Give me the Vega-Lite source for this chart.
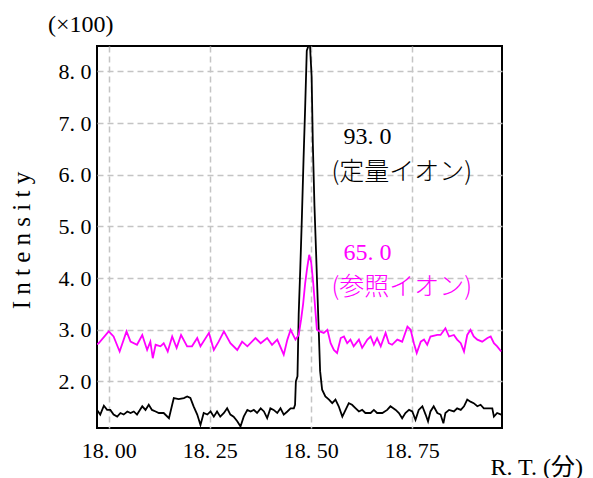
{
  "$schema": "https://vega.github.io/schema/vega-lite/v6.json",
  "width": 405,
  "height": 382,
  "autosize": {"type": "none"},
  "padding": {"left": 97, "top": 46, "right": 91, "bottom": 50},
  "background": "white",
  "config": {
    "view": {"stroke": "#000000", "strokeWidth": 2},
    "axis": {
      "grid": true,
      "gridDash": [6, 4],
      "gridColor": "#c4c4c4",
      "gridWidth": 1.5,
      "ticks": false,
      "domain": false,
      "labelFont": "Liberation Serif",
      "labelFontSize": 22,
      "labelColor": "#000000",
      "labelFlush": false,
      "labelOverlap": false,
      "titleColor": "#000000",
      "titleFontWeight": "normal"
    }
  },
  "title": {
    "text": "(×100)",
    "frame": "group",
    "anchor": "start",
    "dx": -49,
    "offset": -15,
    "baseline": "bottom",
    "font": "Liberation Serif",
    "fontSize": 24,
    "fontWeight": "normal",
    "color": "#000000"
  },
  "datasets": {
    "chrom": [
      {"ion": "93.0", "t": 17.971, "v": 1.45}, {"ion": "93.0", "t": 17.979, "v": 1.36}, {"ion": "93.0", "t": 17.988, "v": 1.53}, {"ion": "93.0", "t": 17.996, "v": 1.45},
      {"ion": "93.0", "t": 18.004, "v": 1.45}, {"ion": "93.0", "t": 18.012, "v": 1.36}, {"ion": "93.0", "t": 18.021, "v": 1.32}, {"ion": "93.0", "t": 18.029, "v": 1.39},
      {"ion": "93.0", "t": 18.037, "v": 1.36}, {"ion": "93.0", "t": 18.046, "v": 1.42}, {"ion": "93.0", "t": 18.054, "v": 1.39}, {"ion": "93.0", "t": 18.062, "v": 1.42},
      {"ion": "93.0", "t": 18.070, "v": 1.36}, {"ion": "93.0", "t": 18.083, "v": 1.52}, {"ion": "93.0", "t": 18.091, "v": 1.45}, {"ion": "93.0", "t": 18.099, "v": 1.55},
      {"ion": "93.0", "t": 18.107, "v": 1.45}, {"ion": "93.0", "t": 18.116, "v": 1.42}, {"ion": "93.0", "t": 18.124, "v": 1.39}, {"ion": "93.0", "t": 18.136, "v": 1.39},
      {"ion": "93.0", "t": 18.149, "v": 1.29}, {"ion": "93.0", "t": 18.157, "v": 1.55}, {"ion": "93.0", "t": 18.161, "v": 1.68}, {"ion": "93.0", "t": 18.173, "v": 1.66},
      {"ion": "93.0", "t": 18.186, "v": 1.68}, {"ion": "93.0", "t": 18.194, "v": 1.71}, {"ion": "93.0", "t": 18.202, "v": 1.68}, {"ion": "93.0", "t": 18.210, "v": 1.52},
      {"ion": "93.0", "t": 18.219, "v": 1.36}, {"ion": "93.0", "t": 18.227, "v": 1.16}, {"ion": "93.0", "t": 18.235, "v": 1.39}, {"ion": "93.0", "t": 18.244, "v": 1.36},
      {"ion": "93.0", "t": 18.252, "v": 1.42}, {"ion": "93.0", "t": 18.260, "v": 1.32}, {"ion": "93.0", "t": 18.268, "v": 1.42}, {"ion": "93.0", "t": 18.276, "v": 1.32},
      {"ion": "93.0", "t": 18.285, "v": 1.39}, {"ion": "93.0", "t": 18.293, "v": 1.48}, {"ion": "93.0", "t": 18.301, "v": 1.36}, {"ion": "93.0", "t": 18.309, "v": 1.32},
      {"ion": "93.0", "t": 18.318, "v": 1.23}, {"ion": "93.0", "t": 18.326, "v": 1.13}, {"ion": "93.0", "t": 18.334, "v": 1.32}, {"ion": "93.0", "t": 18.343, "v": 1.45},
      {"ion": "93.0", "t": 18.351, "v": 1.42}, {"ion": "93.0", "t": 18.359, "v": 1.45}, {"ion": "93.0", "t": 18.367, "v": 1.39}, {"ion": "93.0", "t": 18.376, "v": 1.48},
      {"ion": "93.0", "t": 18.384, "v": 1.42}, {"ion": "93.0", "t": 18.392, "v": 1.29}, {"ion": "93.0", "t": 18.400, "v": 1.48}, {"ion": "93.0", "t": 18.408, "v": 1.45},
      {"ion": "93.0", "t": 18.417, "v": 1.39}, {"ion": "93.0", "t": 18.425, "v": 1.48}, {"ion": "93.0", "t": 18.433, "v": 1.36}, {"ion": "93.0", "t": 18.442, "v": 1.42},
      {"ion": "93.0", "t": 18.450, "v": 1.48}, {"ion": "93.0", "t": 18.458, "v": 1.48}, {"ion": "93.0", "t": 18.461, "v": 1.55}, {"ion": "93.0", "t": 18.463, "v": 2.0},
      {"ion": "93.0", "t": 18.467, "v": 2.1}, {"ion": "93.0", "t": 18.470, "v": 3.3}, {"ion": "93.0", "t": 18.474, "v": 4.2}, {"ion": "93.0", "t": 18.478, "v": 5.2},
      {"ion": "93.0", "t": 18.482, "v": 6.3}, {"ion": "93.0", "t": 18.486, "v": 7.3}, {"ion": "93.0", "t": 18.490, "v": 8.4}, {"ion": "93.0", "t": 18.494, "v": 9.5},
      {"ion": "93.0", "t": 18.498, "v": 8.6}, {"ion": "93.0", "t": 18.502, "v": 7.9}, {"ion": "93.0", "t": 18.505, "v": 6.6}, {"ion": "93.0", "t": 18.509, "v": 5.4},
      {"ion": "93.0", "t": 18.513, "v": 4.5}, {"ion": "93.0", "t": 18.516, "v": 3.8}, {"ion": "93.0", "t": 18.520, "v": 2.9}, {"ion": "93.0", "t": 18.523, "v": 2.2},
      {"ion": "93.0", "t": 18.528, "v": 1.84}, {"ion": "93.0", "t": 18.536, "v": 1.71}, {"ion": "93.0", "t": 18.545, "v": 1.65}, {"ion": "93.0", "t": 18.553, "v": 1.58},
      {"ion": "93.0", "t": 18.561, "v": 1.65}, {"ion": "93.0", "t": 18.569, "v": 1.52}, {"ion": "93.0", "t": 18.578, "v": 1.32}, {"ion": "93.0", "t": 18.586, "v": 1.45},
      {"ion": "93.0", "t": 18.594, "v": 1.58}, {"ion": "93.0", "t": 18.602, "v": 1.55}, {"ion": "93.0", "t": 18.611, "v": 1.48}, {"ion": "93.0", "t": 18.619, "v": 1.42},
      {"ion": "93.0", "t": 18.627, "v": 1.45}, {"ion": "93.0", "t": 18.635, "v": 1.39}, {"ion": "93.0", "t": 18.648, "v": 1.39}, {"ion": "93.0", "t": 18.656, "v": 1.45},
      {"ion": "93.0", "t": 18.664, "v": 1.39}, {"ion": "93.0", "t": 18.677, "v": 1.39}, {"ion": "93.0", "t": 18.689, "v": 1.45}, {"ion": "93.0", "t": 18.697, "v": 1.52},
      {"ion": "93.0", "t": 18.710, "v": 1.45}, {"ion": "93.0", "t": 18.718, "v": 1.39}, {"ion": "93.0", "t": 18.726, "v": 1.29}, {"ion": "93.0", "t": 18.734, "v": 1.39},
      {"ion": "93.0", "t": 18.743, "v": 1.45}, {"ion": "93.0", "t": 18.751, "v": 1.42}, {"ion": "93.0", "t": 18.759, "v": 1.26}, {"ion": "93.0", "t": 18.767, "v": 1.45},
      {"ion": "93.0", "t": 18.776, "v": 1.52}, {"ion": "93.0", "t": 18.784, "v": 1.36}, {"ion": "93.0", "t": 18.790, "v": 1.23}, {"ion": "93.0", "t": 18.796, "v": 1.42},
      {"ion": "93.0", "t": 18.804, "v": 1.52}, {"ion": "93.0", "t": 18.813, "v": 1.39}, {"ion": "93.0", "t": 18.821, "v": 1.36}, {"ion": "93.0", "t": 18.828, "v": 1.19},
      {"ion": "93.0", "t": 18.833, "v": 1.39}, {"ion": "93.0", "t": 18.842, "v": 1.45}, {"ion": "93.0", "t": 18.854, "v": 1.42}, {"ion": "93.0", "t": 18.862, "v": 1.48},
      {"ion": "93.0", "t": 18.871, "v": 1.45}, {"ion": "93.0", "t": 18.879, "v": 1.52}, {"ion": "93.0", "t": 18.887, "v": 1.65}, {"ion": "93.0", "t": 18.895, "v": 1.61},
      {"ion": "93.0", "t": 18.903, "v": 1.58}, {"ion": "93.0", "t": 18.912, "v": 1.52}, {"ion": "93.0", "t": 18.920, "v": 1.55}, {"ion": "93.0", "t": 18.928, "v": 1.48},
      {"ion": "93.0", "t": 18.941, "v": 1.48}, {"ion": "93.0", "t": 18.949, "v": 1.48}, {"ion": "93.0", "t": 18.953, "v": 1.32}, {"ion": "93.0", "t": 18.961, "v": 1.39},
      {"ion": "93.0", "t": 18.971, "v": 1.36},

      {"ion": "65.0", "t": 17.971, "v": 2.72}, {"ion": "65.0", "t": 17.975, "v": 2.74}, {"ion": "65.0", "t": 18.000, "v": 2.97}, {"ion": "65.0", "t": 18.012, "v": 2.87},
      {"ion": "65.0", "t": 18.027, "v": 2.58}, {"ion": "65.0", "t": 18.044, "v": 2.97}, {"ion": "65.0", "t": 18.054, "v": 2.77}, {"ion": "65.0", "t": 18.070, "v": 2.71},
      {"ion": "65.0", "t": 18.083, "v": 2.90}, {"ion": "65.0", "t": 18.095, "v": 2.61}, {"ion": "65.0", "t": 18.103, "v": 2.77}, {"ion": "65.0", "t": 18.109, "v": 2.45},
      {"ion": "65.0", "t": 18.116, "v": 2.71}, {"ion": "65.0", "t": 18.128, "v": 2.68}, {"ion": "65.0", "t": 18.136, "v": 2.74}, {"ion": "65.0", "t": 18.146, "v": 2.58},
      {"ion": "65.0", "t": 18.157, "v": 2.87}, {"ion": "65.0", "t": 18.168, "v": 2.65}, {"ion": "65.0", "t": 18.179, "v": 2.90}, {"ion": "65.0", "t": 18.194, "v": 2.68},
      {"ion": "65.0", "t": 18.206, "v": 2.68}, {"ion": "65.0", "t": 18.219, "v": 2.84}, {"ion": "65.0", "t": 18.227, "v": 2.68}, {"ion": "65.0", "t": 18.248, "v": 2.94},
      {"ion": "65.0", "t": 18.260, "v": 2.61}, {"ion": "65.0", "t": 18.272, "v": 2.77}, {"ion": "65.0", "t": 18.285, "v": 2.97}, {"ion": "65.0", "t": 18.301, "v": 2.74},
      {"ion": "65.0", "t": 18.318, "v": 2.61}, {"ion": "65.0", "t": 18.330, "v": 2.77}, {"ion": "65.0", "t": 18.343, "v": 2.68}, {"ion": "65.0", "t": 18.363, "v": 2.84},
      {"ion": "65.0", "t": 18.376, "v": 2.74}, {"ion": "65.0", "t": 18.392, "v": 2.84}, {"ion": "65.0", "t": 18.404, "v": 2.71}, {"ion": "65.0", "t": 18.417, "v": 2.81},
      {"ion": "65.0", "t": 18.433, "v": 2.52}, {"ion": "65.0", "t": 18.442, "v": 2.81}, {"ion": "65.0", "t": 18.450, "v": 3.00}, {"ion": "65.0", "t": 18.462, "v": 2.81},
      {"ion": "65.0", "t": 18.470, "v": 2.9}, {"ion": "65.0", "t": 18.476, "v": 3.2}, {"ion": "65.0", "t": 18.481, "v": 3.5}, {"ion": "65.0", "t": 18.486, "v": 3.9},
      {"ion": "65.0", "t": 18.491, "v": 4.2}, {"ion": "65.0", "t": 18.496, "v": 4.45}, {"ion": "65.0", "t": 18.501, "v": 4.3}, {"ion": "65.0", "t": 18.506, "v": 3.9},
      {"ion": "65.0", "t": 18.511, "v": 3.4}, {"ion": "65.0", "t": 18.515, "v": 3.0}, {"ion": "65.0", "t": 18.522, "v": 2.97}, {"ion": "65.0", "t": 18.532, "v": 2.94},
      {"ion": "65.0", "t": 18.541, "v": 3.00}, {"ion": "65.0", "t": 18.549, "v": 2.74}, {"ion": "65.0", "t": 18.557, "v": 2.61}, {"ion": "65.0", "t": 18.565, "v": 2.55},
      {"ion": "65.0", "t": 18.574, "v": 2.84}, {"ion": "65.0", "t": 18.582, "v": 2.87}, {"ion": "65.0", "t": 18.590, "v": 2.74}, {"ion": "65.0", "t": 18.598, "v": 2.81},
      {"ion": "65.0", "t": 18.606, "v": 2.68}, {"ion": "65.0", "t": 18.619, "v": 2.81}, {"ion": "65.0", "t": 18.627, "v": 2.65}, {"ion": "65.0", "t": 18.640, "v": 2.81},
      {"ion": "65.0", "t": 18.648, "v": 2.87}, {"ion": "65.0", "t": 18.656, "v": 2.71}, {"ion": "65.0", "t": 18.664, "v": 2.84}, {"ion": "65.0", "t": 18.673, "v": 2.68},
      {"ion": "65.0", "t": 18.685, "v": 2.94}, {"ion": "65.0", "t": 18.693, "v": 2.74}, {"ion": "65.0", "t": 18.701, "v": 2.71}, {"ion": "65.0", "t": 18.714, "v": 2.81},
      {"ion": "65.0", "t": 18.726, "v": 2.77}, {"ion": "65.0", "t": 18.739, "v": 3.06}, {"ion": "65.0", "t": 18.747, "v": 3.00}, {"ion": "65.0", "t": 18.755, "v": 2.74},
      {"ion": "65.0", "t": 18.762, "v": 2.55}, {"ion": "65.0", "t": 18.772, "v": 2.77}, {"ion": "65.0", "t": 18.780, "v": 2.81}, {"ion": "65.0", "t": 18.788, "v": 2.71},
      {"ion": "65.0", "t": 18.796, "v": 2.87}, {"ion": "65.0", "t": 18.813, "v": 2.90}, {"ion": "65.0", "t": 18.821, "v": 2.90}, {"ion": "65.0", "t": 18.833, "v": 3.03},
      {"ion": "65.0", "t": 18.842, "v": 2.87}, {"ion": "65.0", "t": 18.854, "v": 2.90}, {"ion": "65.0", "t": 18.862, "v": 2.81}, {"ion": "65.0", "t": 18.871, "v": 2.74},
      {"ion": "65.0", "t": 18.879, "v": 2.58}, {"ion": "65.0", "t": 18.887, "v": 2.90}, {"ion": "65.0", "t": 18.895, "v": 3.00}, {"ion": "65.0", "t": 18.903, "v": 2.87},
      {"ion": "65.0", "t": 18.912, "v": 2.81}, {"ion": "65.0", "t": 18.924, "v": 2.77}, {"ion": "65.0", "t": 18.937, "v": 2.84}, {"ion": "65.0", "t": 18.945, "v": 2.87},
      {"ion": "65.0", "t": 18.953, "v": 2.74}, {"ion": "65.0", "t": 18.961, "v": 2.68}, {"ion": "65.0", "t": 18.971, "v": 2.58}
    ],
    "notes": [
      {"ion": "93.0", "kind": "num", "label": "93. 0", "t": 18.581, "v": 6.72},
      {"ion": "93.0", "kind": "jp", "label": "(定量イオン)", "t": 18.551, "v": 6.06},
      {"ion": "65.0", "kind": "num", "label": "65. 0", "t": 18.581, "v": 4.48},
      {"ion": "65.0", "kind": "jp", "label": "(参照イオン)", "t": 18.551, "v": 3.83}
    ]
  },
  "encoding": {
    "x": {
      "field": "t",
      "type": "quantitative",
      "scale": {"domain": [17.971, 18.973], "nice": false, "zero": false},
      "axis": {
        "values": [18, 18.25, 18.5, 18.75],
        "labelExpr": "replace(format(datum.value, '.2f'), '.', '. ')",
        "labelPadding": 12,
        "title": "R. T. (分)",
        "titleFont": "Liberation Serif, Noto Sans CJK JP",
        "titleFontSize": 24,
        "titleX": 393,
        "titleY": 39,
        "titleAlign": "left",
        "titleBaseline": "middle",
        "titleAnchor": null
      }
    },
    "y": {
      "field": "v",
      "type": "quantitative",
      "scale": {"domain": [1.1, 8.49], "nice": false, "zero": false, "clamp": true},
      "axis": {
        "values": [2, 3, 4, 5, 6, 7, 8],
        "labelExpr": "replace(format(datum.value, '.1f'), '.', '. ')",
        "labelPadding": 6,
        "title": "I n t e n s i t y",
        "titleFont": "Liberation Serif",
        "titleFontSize": 25,
        "titleX": -76,
        "titleY": 194,
        "titleAngle": -90,
        "titleAlign": "center",
        "titleBaseline": "middle",
        "titleAnchor": null
      }
    }
  },
  "layer": [
    {
      "data": {"name": "chrom"},
      "mark": {"type": "line", "strokeWidth": 1.8, "clip": true},
      "encoding": {
        "color": {
          "field": "ion",
          "type": "nominal",
          "scale": {"domain": ["93.0", "65.0"], "range": ["#000000", "#ff00ff"]},
          "legend": null
        }
      }
    },
    {
      "data": {"name": "notes"},
      "transform": [{"filter": "datum.kind === 'num'"}],
      "mark": {"type": "text", "align": "left", "baseline": "middle", "font": "Liberation Serif", "fontSize": 24},
      "encoding": {
        "text": {"field": "label"},
        "color": {"field": "ion", "type": "nominal", "legend": null}
      }
    },
    {
      "data": {"name": "notes"},
      "transform": [{"filter": "datum.kind === 'jp'"}],
      "mark": {"type": "text", "align": "left", "baseline": "middle", "font": "Noto Sans CJK JP", "fontSize": 25, "fontWeight": 300},
      "encoding": {
        "text": {"field": "label"},
        "color": {"field": "ion", "type": "nominal", "legend": null}
      }
    }
  ]
}
